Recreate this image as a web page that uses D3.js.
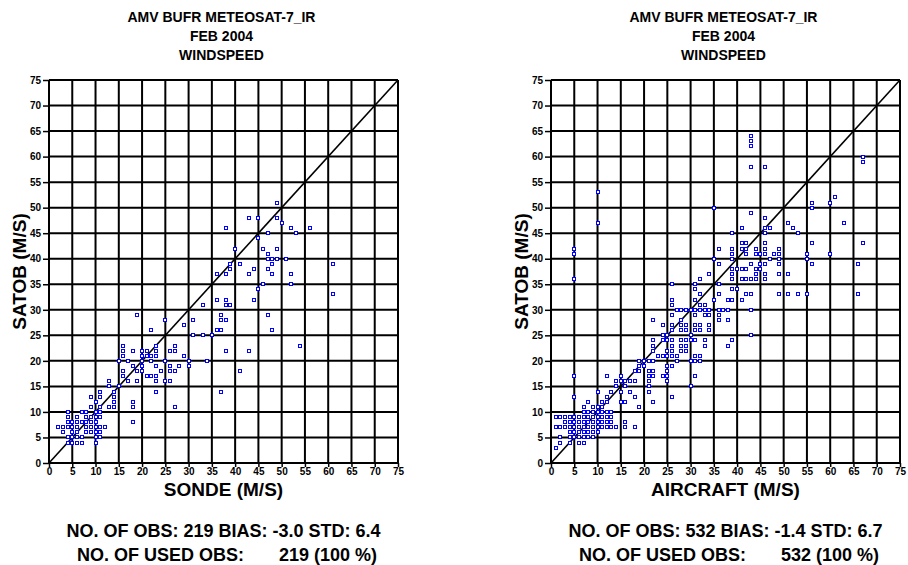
<!DOCTYPE html>
<html><head><meta charset="utf-8">
<script src="https://cdn.jsdelivr.net/npm/d3@7"></script>
<style>body{margin:0;background:#fff}svg{display:block}text{font-family:Arial,"Liberation Sans",sans-serif;font-weight:bold;fill:#000}</style>
</head><body>
<script>
// ---- data ----
const titleLines = ["AMV BUFR METEOSAT-7_IR", "FEB 2004", "WINDSPEED"];
const tickValues = d3.range(0, 76, 5);
const yTitle = "SATOB (M/S)";
const xTitles = ["SONDE (M/S)", "AIRCRAFT (M/S)"];
const statsLine1 = ["NO. OF OBS: 219 BIAS: -3.0 STD: 6.4", "NO. OF OBS: 532 BIAS: -1.4 STD: 6.7"];
const usedLabel = "NO. OF USED OBS:";
const usedValue = ["219 (100 %)", "532 (100 %)"];

const sondePoints = [
[2,7],[3,7],[4,7],[5,7],[6,7],[8,7],[9,7],[10,7],[11,7],[12,7],
[3,6],[5,6],[6,6],[8,6],[9,6],[10,6],[11,6],
[4,5],[5,5],[6,5],[7,5],[10,5],[11,5],
[4,4],[5,4],[6,4],[7,4],[10,4],
[4,8],[5,8],[6,8],[7,8],[8,8],[9,8],[10,8],
[4,9],[6,9],[8,9],[9,9],[10,9],[11,9],
[4,10],[7,10],[8,10],[10,10],[11,10],
[9,11],[11,11],[9,13],[11,13],[11,14],[10,12],
[13,16],[13,15],[14,14],[14,13],[14,12],[14,11],[13,11],[15,15],[15,20],
[16,23],[16,22],[16,21],[18,22],[20,22],[21,22],[23,23],[23,22],
[17,20],[20,21],[21,21],[22,21],[23,21],[27,23],[27,22],[26,22],
[18,19],[19,18],[16,18],[16,17],[17,16],[19,16],[20,19],[20,18],[21,17],[22,17],[23,17],[23,19],
[24,18],[26,19],[26,18],[27,18],[28,19],[29,21],[25,20],[30,20],[30,19],[23,16],[23,14],[25,16],
[26,16],[27,11],[18,12],[18,11],[18,8],[20,20],[22,20],
[19,29],[25,28],[22,26],[29,27],[31,28],[33,31],[31,25],[33,25],[35,25],[36,26],[37,29],[37,28],[38,28],
[38,22],[37,14],[34,20],[36,32],[38,32],[38,31],[39,31],[36,37],[38,37],[39,39],[39,38],[41,39],
[48,39],[44,38],[47,38],[43,37],[48,37],[52,37],[46,35],[52,35],[45,34],[44,32],[47,29],[37,26],
[48,26],[43,22],[54,23],[41,18],[61,39],[61,33],
[49,51],[43,48],[45,48],[49,48],[50,47],[38,46],[52,46],[56,46],[53,45],[47,45],[45,44],[40,42],
[46,42],[49,42],[47,41],[47,40],[48,40],[49,40],[51,40]
];

const aircraftPoints = [
[1,9],[2,9],[3,9],[4,9],[5,9],[6,9],[7,9],[8,9],[9,9],[10,9],[11,9],[12,9],[13,9],
[3,8],[4,8],[5,8],[6,8],[7,8],[8,8],[9,8],[10,8],[11,8],[12,8],[13,8],[16,8],
[1,7],[2,7],[3,7],[4,7],[5,7],[6,7],[7,7],[8,7],[9,7],[10,7],[11,7],[12,7],[13,7],[14,7],[16,7],[18,7],
[4,6],[5,6],[6,6],[7,6],[8,6],[9,6],[10,6],
[2,5],[4,5],[5,5],[6,5],[7,5],[8,5],[9,5],
[2,4],[4,4],[6,4],[7,4],[1,3],
[7,10],[8,10],[9,10],[10,10],[11,10],[12,10],[13,10],
[7,11],[9,11],[10,11],[11,11],[8,12],[11,12],[12,12],[5,13],[12,13],[10,14],[13,14],[5,17],[12,17],
[14,16],[15,16],[16,16],[17,16],[18,16],[14,15],[16,15],[15,14],[17,14],[15,12],[16,12],[18,13],[19,11],
[15,17],[18,18],[19,18],[19,19],[19,20],[20,20],[20,19],
[5,36],[5,41],[5,42],[10,53],[10,47],
[21,20],[22,20],[21,18],[22,18],[21,17],[22,17],[21,16],[21,15],[21,14],[22,12],[22,28],[22,24],[22,23],
[22,22],[23,21],[24,21],[25,21],[26,21],[24,24],[25,24],[24,25],[25,25],[24,27],[26,27],[26,26],[26,29],
[25,18],[25,17],[25,16],[24,17],[26,19],[27,20],[26,23],[26,22],[26,13],[28,28],[28,26],[28,24],[28,23],
[28,22],[29,24],[29,23],[29,22],[29,27],[29,26],[30,30],[30,25],[30,24],[30,15],[31,30],[31,29],[31,27],
[31,26],[31,24],[31,20],[31,17],[32,20],[32,30],[32,27],[32,26],[33,23],[33,30],[34,30],[34,26],[36,30],
[36,29],[36,28],[38,28],[38,30],
[26,35],[26,32],[26,31],[27,30],[28,30],[29,30],[31,35],[31,34],[31,32],[32,33],[32,31],[33,31],[33,29],
[34,29],[34,27],[34,37],[32,36],[35,32],[36,33],[36,35],[36,39],[37,30],[38,32],[39,32],[39,34],[39,36],
[39,37],[39,38],[39,41],[39,24],[38,23],[40,34],[41,32],[41,36],[42,33],[42,36],[42,38],[42,41],[43,33],
[43,30],[43,36],[43,25],[44,36],[44,37],[44,38],[44,41],[45,38],[45,39],[45,41],[46,36],[46,37],[46,39],
[46,41],[48,41],[49,33],[49,37],[49,41],[51,33],[51,37],[53,33],[55,33],[55,41],[55,40],[56,39],[60,41],
[66,39],[66,33],[30,20],[31,21],[32,21],[27,21],[25,22],[25,19],[33,24],[28,27],[26,24],
[43,64],[43,63],[43,62],[43,58],[46,58],[67,60],[67,59],[35,50],[56,51],[56,50],[60,51],[61,52],[43,49],
[46,48],[41,46],[46,46],[47,46],[51,47],[52,46],[53,45],[63,47],[39,45],[46,45],[56,43],[67,43],[36,42],
[39,42],[41,42],[42,42],[44,42],[46,42],[49,42],[41,43],[42,43],[46,43],[35,40],[39,41],[39,40],[42,41],
[47,40],[49,40],[36,39],[39,38],[40,38],[41,38],[43,39],[44,38],[45,39],[45,38],[46,39],[49,39]
];

// ---- drawing ----
const svg = d3.select("body").append("svg").attr("width", 908).attr("height", 565);

const panels = [
  {x0: 49, x1: 398, pts: sondePoints, idx: 0},
  {x0: 551, x1: 900, pts: aircraftPoints, idx: 1}
];
const yTop = 80, yBot = 463;

panels.forEach(p => {
  const g = svg.append("g");
  const x = d3.scaleLinear().domain([0, 75]).range([p.x0, p.x1]);
  const y = d3.scaleLinear().domain([0, 75]).range([yBot, yTop]);
  const cx = (p.x0 + p.x1) / 2 - 2;

  // titles
  titleLines.forEach((t, i) => {
    g.append("text").attr("x", cx).attr("y", 22 + i * 19).attr("text-anchor", "middle")
      .attr("font-size", 14).text(t);
  });

  // grid
  g.append("g").selectAll("line").data(tickValues).join("line")
    .attr("x1", d => x(d)).attr("x2", d => x(d)).attr("y1", yTop).attr("y2", yBot)
    .attr("stroke", "#000").attr("stroke-width", 2);
  g.append("g").selectAll("line").data(tickValues).join("line")
    .attr("x1", p.x0).attr("x2", p.x1).attr("y1", d => y(d)).attr("y2", d => y(d))
    .attr("stroke", "#000").attr("stroke-width", 2);

  // axes
  const ax = d3.axisBottom(x).tickValues(tickValues).tickSize(4).tickPadding(1);
  const gx = g.append("g").attr("transform", `translate(0,${yBot})`).call(ax);
  const ay = d3.axisLeft(y).tickValues(tickValues).tickSize(6).tickPadding(2);
  const gy = g.append("g").attr("transform", `translate(${p.x0},0)`).call(ay);
  [gx, gy].forEach(a => {
    a.select(".domain").remove();
    a.selectAll(".tick line").attr("stroke", "#000").attr("stroke-width", 1.5);
    a.selectAll(".tick text").attr("font-size", 10).attr("font-weight", "bold")
      .attr("font-family", "Arial, 'Liberation Sans', sans-serif").attr("fill", "#000");
  });

  // diagonal
  g.append("line").attr("x1", x(0)).attr("y1", y(0)).attr("x2", x(75)).attr("y2", y(75))
    .attr("stroke", "#000").attr("stroke-width", 1.6);

  // points
  g.append("g").selectAll("rect").data(p.pts).join("rect")
    .attr("x", d => Math.round(x(d[0])) - 1.5).attr("y", d => Math.round(y(d[1])) - 1.5)
    .attr("width", 3).attr("height", 3)
    .attr("fill", "#fff").attr("stroke", "#0000ff").attr("stroke-width", 1);

  // axis titles
  g.append("text").attr("x", cx + 2).attr("y", 496).attr("text-anchor", "middle")
    .attr("font-size", 19).text(xTitles[p.idx]);
  g.append("text").attr("transform", `translate(${p.x0 - 23},${(yTop + yBot) / 2}) rotate(-90)`)
    .attr("text-anchor", "middle").attr("font-size", 19).text(yTitle);

  // stats
  g.append("text").attr("x", cx + 2).attr("y", 537).attr("text-anchor", "middle")
    .attr("font-size", 18).text(statsLine1[p.idx]);
  g.append("text").attr("x", p.x0 + 195).attr("y", 561).attr("text-anchor", "end")
    .attr("font-size", 18).text(usedLabel);
  g.append("text").attr("x", p.x0 + 230).attr("y", 561).attr("text-anchor", "start")
    .attr("font-size", 18).text(usedValue[p.idx]);
});
</script>
</body></html>
